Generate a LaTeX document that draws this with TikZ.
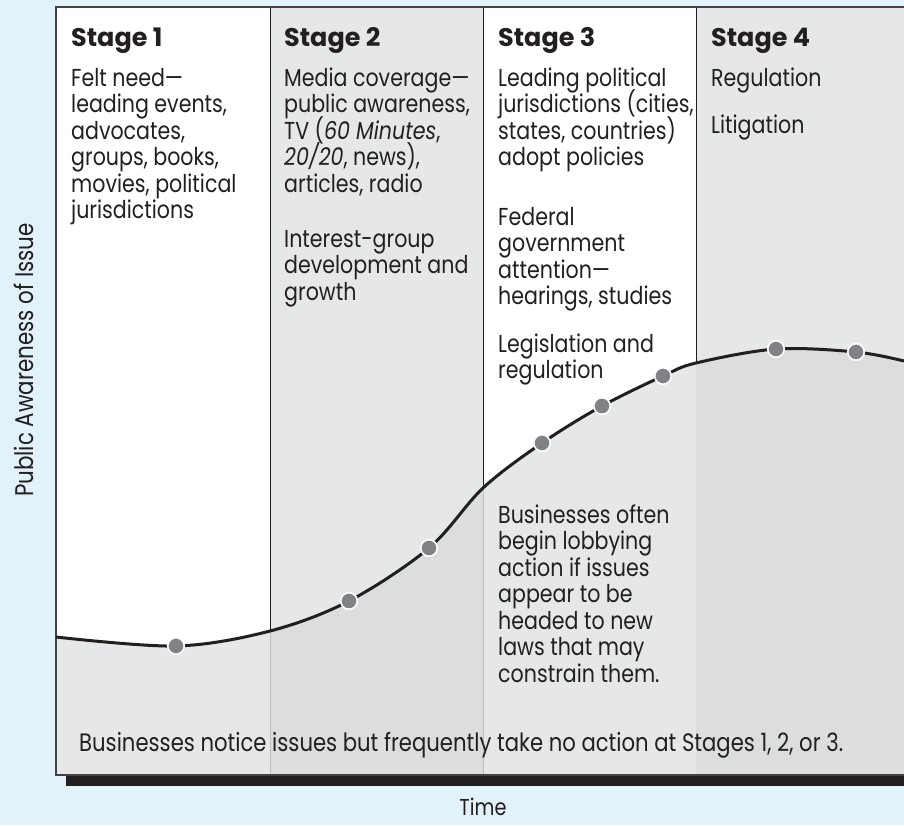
\documentclass[tikz,border=0pt]{standalone}
\usepackage{fontspec}
\setmainfont{Poppins}[FakeStretch=0.84]
\newfontfamily\headfont{Poppins}[FakeStretch=1.0]
\usetikzlibrary{positioning}
\definecolor{bgblue}{RGB}{225,242,250}
\definecolor{lightgr}{RGB}{230,231,232}
\definecolor{darkgr}{RGB}{220,221,222}
\definecolor{inkgr}{RGB}{35,31,32}
\definecolor{dotgr}{RGB}{128,130,133}
\definecolor{rulegr}{RGB}{187,189,191}
\newcommand\blk[1]{\vtop{\baselineskip=26.5pt\lineskiplimit=-\maxdimen\let\\\cr\halign{##\hfil\cr#1\crcr}}}
\def\awcurve{plot[smooth, tension=0.55] coordinates {(56,637) (176,646) (270,631) (349,601) (429,548) (483,488) (542,443) (602,406) (663,376) (696,363) (776,349) (856,352) (904,361)}}

\begin{document}
\begin{tikzpicture}[x=1pt, y=-1pt,
    body/.style={anchor=base west, inner sep=0pt, text=inkgr, font=\fontsize{24.5}{26.5}\selectfont},
    head/.style={body, font=\fontsize{25.5}{26.5}\selectfont\headfont\bfseries},
    axis/.style={inner sep=0pt, text=inkgr, font=\fontsize{23}{25}\selectfont},
    dot/.style={circle, fill=dotgr, draw=white, line width=1.6pt, minimum size=16.5pt, inner sep=0pt},
    curve/.style={line width=3pt, inkgr}]
    \useasboundingbox (0,0) rectangle (904,825);
    \fill[bgblue] (0,0) rectangle (904,825);

    % shadow and columns
    \fill[inkgr] (66,775) rectangle (904,786);
    \fill[white] (56,7) rectangle (270,775);
    \fill[lightgr] (270,7) rectangle (483,775);
    \fill[white] (483,7) rectangle (696,775);
    \fill[lightgr] (696,7) rectangle (904,775);

    % area under the curve
    \begin{scope}
        \clip \awcurve -- (904,775) -- (56,775) -- cycle;
        \fill[lightgr] (56,7) rectangle (270,775);
        \fill[darkgr] (270,7) rectangle (483,775);
        \fill[lightgr] (483,7) rectangle (696,775);
        \fill[darkgr] (696,7) rectangle (904,775);
        \draw[rulegr, line width=1pt] (270,7) -- (270,775) (483,7) -- (483,775);
    \end{scope}
    % dividers above the curve
    \begin{scope}
        \clip \awcurve -- (904,7) -- (56,7) -- cycle;
        \draw[inkgr, line width=1pt] (270,7) -- (270,775) (483,7) -- (483,775) (696,7) -- (696,775);
    \end{scope}

    \draw[inkgr!85, line width=1.5pt] (910,7) -- (56,7) -- (56,775) -- (910,775);
    \draw[curve] \awcurve;
    \foreach \x/\y [count=\i] in {176/646, 349/601, 429/548, 542/443, 602/406, 663/376, 776/349, 856/352}
        \node[dot] (d\i) at (\x,\y) {};

    % Stage 1
    \node[head] (h1) at (71,46) {Stage 1};
    \node[body] (s1a) at (71,86) {\blk{Felt need—\\leading events,\\advocates,\\groups, books,\\movies, political\\jurisdictions}};
    % Stage 2
    \node[head] (h2) at (284,46) {Stage 2};
    \node[body] (s2a) at (284,86) {\blk{Media coverage—\\public awareness,\\TV (\textit{60 Minutes},\\\textit{20/20}, news),\\articles, radio}};
    \node[body] (s2b) at (284,247) {\blk{Interest-group\\development and\\growth}};
    % Stage 3
    \node[head] (h3) at (498,46) {Stage 3};
    \node[body] (s3a) at (498,86) {\blk{Leading political\\jurisdictions (cities,\\states, countries)\\adopt policies}};
    \node[body] (s3b) at (498,225) {\blk{Federal\\government\\attention—\\hearings, studies}};
    \node[body] (s3c) at (498,352) {\blk{Legislation and\\regulation}};
    \node[body] (s3d) at (498,523) {\blk{Businesses often\\begin lobbying\\action if issues\\appear to be\\headed to new\\laws that may\\constrain them.}};
    % Stage 4
    \node[head] (h4) at (711,46) {Stage 4};
    \node[body] (s4a) at (711,86) {Regulation};
    \node[body] (s4b) at (711,133) {Litigation};

    \node[body, font=\fontsize{25.2}{27}\selectfont] (note) at (79,751) {Businesses notice issues but frequently take no action at Stages 1, 2, or 3.};
    \node[axis, anchor=base] (xlab) at (483,815) {Time};
    \node[axis, anchor=base, rotate=90, font=\fontsize{25.5}{27}\selectfont] (ylab) at (33,360) {Public Awareness of Issue};
\end{tikzpicture}
\end{document}
